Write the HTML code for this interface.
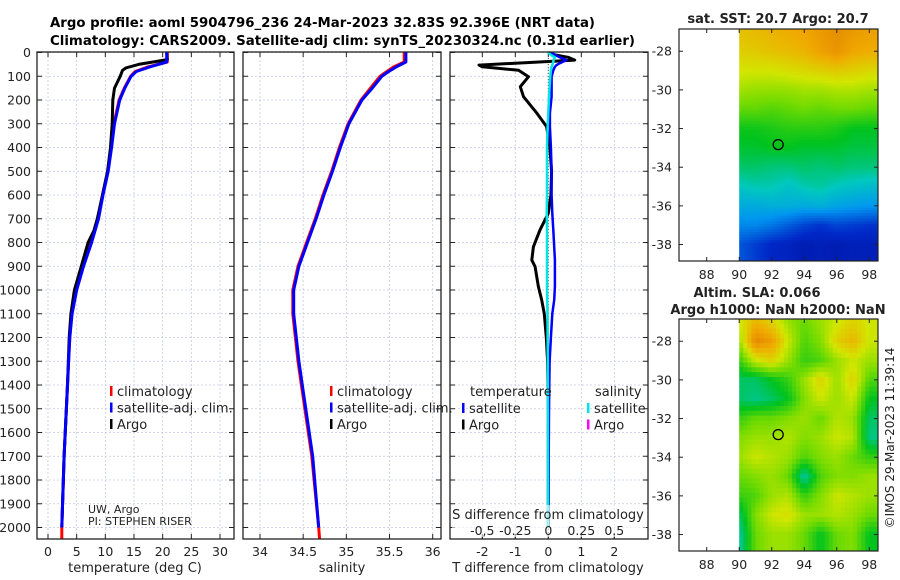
<!DOCTYPE html>
<html><head><meta charset="utf-8">
<style>
html,body{margin:0;padding:0;background:#fff;}
svg{display:block;font-family:"DejaVu Sans","Liberation Sans",sans-serif;}
</style></head>
<body>
<svg id="fig" width="900" height="580" viewBox="0 0 900 580" xmlns="http://www.w3.org/2000/svg">
<defs>
<clipPath id="clip1"><rect x="679" y="29" width="199" height="232"/></clipPath>
<clipPath id="clip2"><rect x="679" y="319" width="199" height="232"/></clipPath>
</defs>
<text x="50" y="27" font-size="13.5" font-weight="bold" textLength="545" lengthAdjust="spacingAndGlyphs">Argo profile: aoml 5904796_236 24-Mar-2023 32.83S 92.396E (NRT data)</text>
<text x="50" y="45" font-size="13.5" font-weight="bold" textLength="585" lengthAdjust="spacingAndGlyphs">Climatology: CARS2009. Satellite-adj clim: synTS_20230324.nc (0.31d earlier)</text>
<g id="root"></g>
</svg>
<script>
// ---- profile data ----
const depthClim = [0,40,60,80,100,150,200,300,400,500,600,700,800,900,1000,1100,1200,1300,1400,1700,2000,2050];
const tempClim  = [20.8,20.8,17.5,15.2,14.4,13.3,12.4,11.5,11.0,10.4,9.5,8.7,7.5,6.1,4.9,4.1,3.8,3.6,3.4,2.8,2.4,2.4];
const tempSat   = [20.7,20.7,17.8,15.4,14.5,13.4,12.5,11.6,11.1,10.5,9.6,8.8,7.6,6.2,5.0,4.2,3.8,3.6,3.4,2.8,2.4];
const depthArgo = [0,30,50,65,75,100,150,200,300,400,500,600,700,750,800,850,900,1000,1100,1200,1400,1700,2000];
const tempArgo  = [20.7,20.8,15.8,13.6,13.0,12.6,11.6,11.3,11.2,10.9,10.4,9.5,8.6,8.0,7.0,6.4,5.8,4.6,4.0,3.7,3.4,2.8,2.4];
const salClim   = [35.67,35.67,35.55,35.47,35.39,35.28,35.17,35.02,34.92,34.83,34.73,34.64,34.54,34.44,34.38,34.38,34.41,34.44,34.48,34.6,34.68,34.69];
const salSat    = [35.69,35.69,35.58,35.49,35.41,35.30,35.18,35.03,34.93,34.84,34.74,34.65,34.55,34.45,34.39,34.39,34.42,34.45,34.49,34.61,34.68];
const dDepth    = [0,10,20,32,45,53,60,75,102,144,186,255,312,400,500,600,677,747,818,874,902,986,1042,1100,1200,1300,1500,1800,2000];
const dTArgo    = [0,0.2,0.6,0.8,-1.0,-2.1,-2.0,-0.9,-0.6,-0.85,-0.75,-0.35,-0.05,0.05,0.1,0.08,0,-0.25,-0.45,-0.5,-0.4,-0.3,-0.2,-0.12,-0.06,-0.02,0,0,0];
const dTSat     = [0.1,0.2,0.35,0.55,0.35,0.25,0.2,0.15,0.1,0.1,0.1,0.05,0.05,0.08,0.1,0.1,0.12,0.15,0.18,0.2,0.2,0.2,0.18,0.12,0.08,0.04,0.02,0.01,0];
const dSSat     = [0,0.02,0.05,0.04,0.035,0.03,0.025,0.02,0.015,0.01,0.005,0,-0.005,-0.01,-0.01,-0.01,-0.012,-0.01,-0.01,-0.01,-0.01,-0.01,-0.008,-0.006,-0.005,-0.004,-0.003,-0.002,-0.002];
const depthTicks = [0,100,200,300,400,500,600,700,800,900,1000,1100,1200,1300,1400,1500,1600,1700,1800,1900,2000];
const tempTicks = [0,5,10,15,20,25,30];
const salTicks = [34,34.5,35,35.5,36];
const salTickLabels = ["34","34.5","35","35.5","36"];
const tdTicks = [-2,-1,0,1,2];
const sdTicks = [-0.5,-0.25,0,0.25,0.5];
const sdTickLabels = ["-0,5","-0.25","0","0.25","0.5"];
// ---- map data ----
const mapLats = [-27,-28,-29,-30,-31,-32,-33,-34,-35,-36,-37,-38];
const mapLons = [90,91,92,93,94,95,96,97,98];
const sst = [
[22.8,22.9,23.0,23.1,23.2,23.4,23.6,23.4,23.3],
[22.6,22.7,22.8,22.9,23.0,23.3,23.5,23.2,23.1],
[22.3,22.3,22.3,22.4,22.5,22.6,22.7,22.6,22.5],
[21.9,21.8,21.8,21.8,21.9,21.9,22.0,22.0,21.9],
[21.4,21.4,21.3,21.4,21.5,21.4,21.5,21.5,21.4],
[20.8,20.8,20.9,21.0,21.0,21.0,20.9,20.7,20.7],
[20.6,20.6,20.7,20.7,20.6,20.6,20.6,20.5,20.5],
[20.3,20.3,20.2,20.2,20.3,20.2,20.3,20.2,20.2],
[19.8,19.9,19.9,19.7,19.9,20.0,19.8,19.7,19.6],
[19.3,19.3,19.4,19.4,19.3,19.4,19.2,19.1,19.0],
[18.8,18.8,18.6,18.3,18.0,17.8,18.0,17.9,17.8],
[18.2,17.9,17.6,17.5,17.3,17.4,17.3,17.4,17.4]];
const sla = [
[0.08,0.12,0.10,0.06,0.04,0.06,0.08,0.10,0.08],
[0.06,0.16,0.14,0.08,0.03,0.05,0.10,0.12,0.08],
[0.02,0.08,0.10,0.06,0.02,0.03,0.06,0.08,0.06],
[-0.02,-0.02,0.0,0.02,0.06,0.10,0.06,0.10,0.03],
[-0.02,-0.03,-0.02,0.0,0.05,0.08,0.06,0.08,0.0],
[0.02,0.04,0.04,0.05,0.06,0.04,0.07,0.06,-0.02],
[0.05,0.06,0.06,0.07,0.05,0.06,0.08,0.07,-0.03],
[0.06,0.08,0.07,0.06,0.03,0.05,0.06,0.04,0.02],
[0.04,0.05,0.06,0.04,-0.04,0.03,0.05,0.05,0.06],
[0.02,0.03,0.06,0.07,0.02,0.05,0.08,0.07,0.06],
[-0.02,0.05,0.08,0.09,0.06,0.06,0.07,0.06,0.04],
[-0.04,0.04,0.06,0.06,0.04,0.0,0.04,0.05,0.0]];
const argoLon = 92.396, argoLat = -32.83;
const mapLatTicks = [-28,-30,-32,-34,-36,-38];
const mapLonTicks = [88,90,92,94,96,98];

const NS="http://www.w3.org/2000/svg";
const root=document.getElementById('root');
function mk(tag,attrs,parent){const e=document.createElementNS(NS,tag);for(const k in attrs)e.setAttribute(k,attrs[k]);(parent||root).appendChild(e);return e;}
function txt(s,x,y,size,anchor,parent){const t=mk('text',{x:x,y:y,'font-size':size,'text-anchor':anchor||'start',fill:'#222'},parent);t.textContent=s;return t;}

const TOP=52,BOT=539;
const yD=d=>52.5+d*0.2375;
function linear(d0,d1,r0,r1){return v=>r0+(v-d0)*(r1-r0)/(d1-d0);}

function panel(name,x0,x1,xs,xticks,xlabels,showYLabels){
  const g=mk('g',{});
  
  
  xticks.forEach(v=>{const gx=xs(v);mk('line',{x1:gx,x2:gx,y1:TOP,y2:BOT,stroke:'#c4c8e8','stroke-width':0.8,'stroke-dasharray':'2,2'},g);});
  depthTicks.forEach(d=>{const gy=yD(d);mk('line',{x1:x0,x2:x1,y1:gy,y2:gy,stroke:'#c4c8e8','stroke-width':0.8,'stroke-dasharray':'2,2'},g);
    mk('line',{x1:x0,x2:x0+5,y1:gy,y2:gy,stroke:'#222','stroke-width':1},g);
    mk('line',{x1:x1-5,x2:x1,y1:gy,y2:gy,stroke:'#222','stroke-width':1},g);
    if(showYLabels){const t=txt(String(d),31,gy+4.5,12.5,'end',g);}});
  xticks.forEach((v,i)=>{const gx=xs(v);mk('line',{x1:gx,x2:gx,y1:BOT,y2:BOT-5,stroke:'#222'},g);mk('line',{x1:gx,x2:gx,y1:TOP,y2:TOP+5,stroke:'#222'},g);
    if(xlabels){const t=txt(xlabels[i],gx,556,12.5,'middle',g);}});
  return g;
}
function frame(x0,x1,g){mk('rect',{x:x0,y:TOP,width:x1-x0,height:BOT-TOP,fill:'none',stroke:'#222','stroke-width':1.3},g);}
function line(xs,vals,depths,color,w,g,name){
  let d='';vals.forEach((v,i)=>{d+=(i?'L':'M')+xs(v).toFixed(1)+','+yD(depths[i]).toFixed(1);});
  const p=mk('path',{d:d,fill:'none',stroke:color,'stroke-width':w,'stroke-linejoin':'round'},g);
  return p;
}
function legend(items,x,y0,g){items.forEach((it,i)=>{const y=y0+i*16.5;mk('rect',{x:x,y:y-6,width:2.5,height:10,fill:it[1]},g);txt(it[0],x+7,y+4,13,'start',g);});}

// Panel 1 temperature
const xT=linear(0,30,48,220);
const g1=panel('temperature-panel',37,234,xT,tempTicks,tempTicks.map(String),true);
line(xT,tempClim,depthClim,'#ff0000',3,g1,'temp-climatology-line');
line(xT,tempArgo,depthArgo,'#000',3,g1,'temp-argo-line');
line(xT,tempSat,depthClim.slice(0,tempSat.length),'#0000ff',3,g1,'temp-satellite-line');
frame(37,234,g1);
txt('temperature (deg C)',135,572,13,'middle',g1);
const lg1=mk('g',{},g1);
legend([['climatology','#ff0000'],['satellite-adj. clim.','#0000ff'],['Argo','#000']],110,392,lg1);
txt('UW, Argo',88,513,11,'start',g1);
txt('PI: STEPHEN RISER',88,525,11,'start',g1);

// Panel 2 salinity
const xS=linear(34,36,260,432.7);
const g2=panel('salinity-panel',243,441,xS,salTicks,salTickLabels,false);
line(xS,salClim,depthClim,'#ff0000',3,g2,'sal-climatology-line');
line(xS,salSat,depthClim.slice(0,salSat.length),'#0000ff',3,g2,'sal-satellite-line');
frame(243,441,g2);
txt('salinity',342,572,13,'middle',g2);
const lg2=mk('g',{},g2);
legend([['climatology','#ff0000'],['satellite-adj. clim.','#0000ff'],['Argo','#000']],330,392,lg2);

// Panel 3 differences
const xTd=linear(0,2,548.3,614.3);
const xSd=linear(0,0.5,548.3,614.3);
const g3=panel('difference-panel',450,648,xTd,tdTicks,tdTicks.map(String),false);
sdTicks.forEach(v=>{mk('line',{x1:xSd(v),x2:xSd(v),y1:BOT,y2:BOT-5,stroke:'#222'},g3);});
mk('line',{x1:xTd(0),x2:xTd(0),y1:TOP,y2:BOT,stroke:'#555','stroke-width':1,'stroke-dasharray':'1,2'},g3);
line(xTd,dTArgo,dDepth,'#000',3,g3,'tdiff-argo-line');
line(xTd,dTSat,dDepth,'#0000ff',2.5,g3,'tdiff-satellite-line');
line(xSd,dSSat,dDepth,'#00e5e5',2.5,g3,'sdiff-satellite-line');
frame(450,648,g3);
mk('rect',{x:452,y:505,width:194,height:32,fill:'#fff','fill-opacity':0.6},g3);
txt('S difference from climatology',548,519,13,'middle',g3);
sdTicks.forEach((v,i)=>{txt(sdTickLabels[i],xSd(v),535,12.5,'middle',g3);});
txt('T difference from climatology',548,572,13,'middle',g3);
const lg3=mk('g',{},g3);
txt('temperature',470,396,13,'start',lg3);txt('salinity',595,396,13,'start',lg3);
legend([['satellite','#0000ff'],['Argo','#000']],462,409,lg3);
legend([['satellite','#00e5e5'],['Argo','#ff00ff']],587,409,lg3);

// ---- maps ----
const cmapStops=[[0,0,0,120],[0.15,0,40,200],[0.3,0,150,240],[0.4,0,200,190],[0.5,0,195,30],[0.6,120,220,0],[0.68,210,230,0],[0.78,240,170,0],[0.9,220,110,0],[1,200,60,0]];
function cmap(t){t=Math.max(0,Math.min(1,t));
  for(let k=1;k<cmapStops.length;k++){const a=cmapStops[k-1],b=cmapStops[k];
    if(t<=b[0]){const f=(t-a[0])/(b[0]-a[0]);return 'rgb('+[1,2,3].map(i=>Math.round(a[i]+(b[i]-a[i])*f)).join(',')+')';}}
  return 'rgb(200,60,0)';}
function interp(grid,lon,lat){
  let fi=(-27-lat), fj=(lon-90);
  fi=Math.max(0,Math.min(mapLats.length-1.001,fi)); fj=Math.max(0,Math.min(mapLons.length-1.001,fj));
  const i=Math.floor(fi),j=Math.floor(fj),a=fi-i,b=fj-j;
  return grid[i][j]*(1-a)*(1-b)+grid[i+1][j]*a*(1-b)+grid[i][j+1]*(1-a)*b+grid[i+1][j+1]*a*b;}
function map(name,top,grid,vmin,vmax,step,clip){
  const g=mk('g',{});
  const left=679,right=878,bot=top+232;
  const xL=linear(88,98,706.7,869.3), yL=v=>top+(-26.85-v)*19.33;
  const cells=mk('g',{'clip-path':'url(#'+clip+')'},g);
  for(let lat=-26.85;lat>-38.9;lat-=step){for(let lon=90;lon<98.55;lon+=step){
    const v=interp(grid,lon+step/2,lat-step/2);
    const x=xL(lon),y=yL(lat);
    mk('rect',{x:x.toFixed(2),y:y.toFixed(2),width:(step*16.26+0.6).toFixed(2),height:(step*19.33+0.6).toFixed(2),fill:cmap((v-vmin)/(vmax-vmin))},cells);}}
  mk('rect',{x:left,y:top,width:right-left,height:232,fill:'none',stroke:'#222','stroke-width':1.2},g);
  mapLatTicks.forEach(v=>{const y=yL(v);mk('line',{x1:left,x2:left+4,y1:y,y2:y,stroke:'#222'},g);mk('line',{x1:right-4,x2:right,y1:y,y2:y,stroke:'#222'},g);
    txt(String(v),672,y+4.5,12.5,'end',g);});
  mapLonTicks.forEach(v=>{const x=xL(v);mk('line',{x1:x,x2:x,y1:bot,y2:bot-4,stroke:'#222'},g);mk('line',{x1:x,x2:x,y1:top,y2:top+4,stroke:'#222'},g);
    txt(String(v),x,bot+18,12.5,'middle',g);});
  const c=mk('circle',{cx:xL(argoLon),cy:yL(argoLat),r:5,fill:'none',stroke:'#000','stroke-width':1.3},g);
  
  return g;
}
const m1=map('sst-map',29,sst,16.35,25.05,0.14,'clip1');
const t1=txt('sat. SST: 20.7 Argo: 20.7',778,23,13,'middle',m1);t1.setAttribute('font-weight','bold');
const m2=map('sla-map',319,sla,-0.23,0.23,0.25,'clip2');
const t2=txt('Altim. SLA: 0.066',757,297,13,'middle',m2);t2.setAttribute('font-weight','bold');
const t3=txt('Argo h1000: NaN h2000: NaN',778,314,13,'middle',m2);t3.setAttribute('font-weight','bold');
const rt=txt('©IMOS 29-Mar-2023 11:39:14',0,0,12,'middle');
rt.setAttribute('transform','translate(894,438) rotate(-90)');


</script>
</body></html>
